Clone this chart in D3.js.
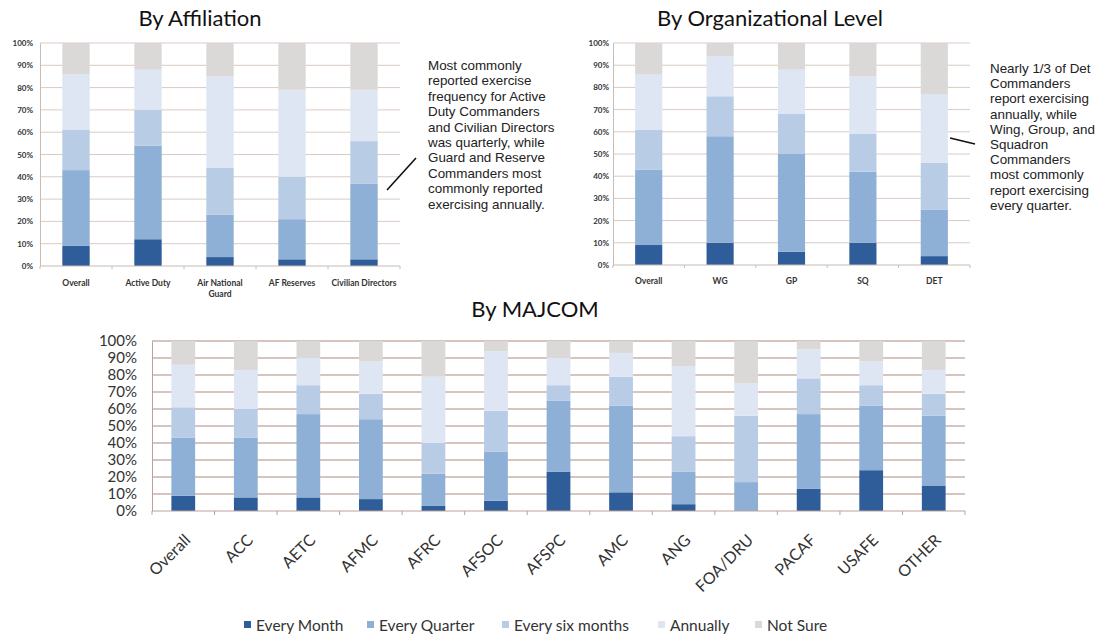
<!DOCTYPE html>
<html>
<head>
<meta charset="utf-8">
<script src="https://cdn.jsdelivr.net/npm/d3@7"></script>
<style>
  html, body { margin: 0; padding: 0; background: #ffffff; }
  svg { display: block; }
</style>
</head>
<body>
<svg id="chart" width="1107" height="637"></svg>
<script>
// ---------------- DATA ----------------
const seriesNames = ["Every Month", "Every Quarter", "Every six months", "Annually", "Not Sure"];
const yTickValues = [0, 10, 20, 30, 40, 50, 60, 70, 80, 90, 100];
const yTickLabels = ["0%", "10%", "20%", "30%", "40%", "50%", "60%", "70%", "80%", "90%", "100%"];

// By Affiliation
const affiliationCategories = ["Overall", "Active Duty", "Air National\nGuard", "AF Reserves", "Civilian Directors"];
const affiliationMonth     = [9, 12, 4, 3, 3];
const affiliationQuarter   = [34, 42, 19, 18, 34];
const affiliationSix       = [18, 16, 21, 19, 19];
const affiliationAnnually  = [25, 18, 41, 39, 23];
const affiliationNotSure   = [14, 12, 15, 21, 21];

// By Organizational Level
const orgCategories = ["Overall", "WG", "GP", "SQ", "DET"];
const orgMonth     = [9, 10, 6, 10, 4];
const orgQuarter   = [34, 48, 44, 32, 21];
const orgSix       = [18, 18, 18, 17, 21];
const orgAnnually  = [25, 18, 20, 26, 31];
const orgNotSure   = [14, 6, 12, 15, 23];

// By MAJCOM
const majcomCategories = ["Overall", "ACC", "AETC", "AFMC", "AFRC", "AFSOC", "AFSPC", "AMC", "ANG", "FOA/DRU", "PACAF", "USAFE", "OTHER"];
const majcomMonth     = [9, 8, 8, 7, 3, 6, 23, 11, 4, 0, 13, 24, 15];
const majcomQuarter   = [34, 35, 49, 47, 19, 29, 42, 51, 19, 17, 44, 38, 41];
const majcomSix       = [18, 17, 17, 15, 18, 24, 9, 17, 21, 39, 21, 12, 13];
const majcomAnnually  = [25, 23, 16, 19, 39, 35, 16, 14, 41, 19, 17, 14, 14];
const majcomNotSure   = [14, 17, 10, 12, 21, 6, 10, 7, 15, 25, 5, 12, 17];

const annotationAffiliation = ["Most commonly", "reported exercise", "frequency for Active", "Duty Commanders",
  "and Civilian Directors", "was quarterly, while", "Guard and Reserve", "Commanders most",
  "commonly reported", "exercising annually."];
const annotationOrg = ["Nearly 1/3 of Det", "Commanders", "report exercising", "annually, while",
  "Wing, Group, and", "Squadron", "Commanders", "most  commonly", "report exercising", "every quarter."];

// ---------------- STYLE ----------------
const colors = ["#2e5d99", "#8eafd6", "#b8cce5", "#dde6f2", "#dbd9d8"];
const uiFont = "Lato, 'Open Sans', sans-serif";
const noteFont = "'Liberation Sans', Arial, sans-serif";

const svg = d3.select("#chart");

function buildRows(cats, arrays) {
  return cats.map((c, i) => {
    const row = { cat: c };
    seriesNames.forEach((s, j) => row[s] = arrays[j][i]);
    return row;
  });
}

function drawPanel(opt) {
  const rows = buildRows(opt.categories, opt.series);
  const stack = d3.stack().keys(seriesNames)(rows);
  const x = d3.scaleBand().domain(opt.categories).range([opt.left, opt.right]).paddingInner(opt.pad).paddingOuter(opt.pad / 2);
  const y = d3.scaleLinear().domain([0, 100]).range([opt.bottom, opt.top]);
  const g = svg.append("g");

  // gridlines
  g.append("g").selectAll("line").data(yTickValues.filter(v => v > 0)).join("line")
    .attr("x1", opt.left).attr("x2", opt.right)
    .attr("y1", d => y(d)).attr("y2", d => y(d))
    .attr("stroke", opt.gridColor).attr("stroke-width", opt.gridWidth);

  // y axis
  const yAxis = d3.axisLeft(y).tickValues(yTickValues)
    .tickFormat((d, i) => yTickLabels[i]).tickSize(0).tickPadding(opt.yPad);
  const ya = g.append("g").attr("transform", `translate(${opt.left},0)`).call(yAxis);
  ya.select(".domain").attr("stroke", opt.axisColor).attr("stroke-width", 1);
  ya.selectAll("text").attr("font-family", uiFont).attr("font-size", opt.yFont)
    .attr("font-weight", opt.yWeight).attr("fill", "#333");

  // bars
  g.append("g").selectAll("g").data(stack).join("g")
    .attr("fill", (d, i) => colors[i])
    .selectAll("rect").data(d => d).join("rect")
    .attr("x", d => x(d.data.cat))
    .attr("width", x.bandwidth())
    .attr("y", d => y(d[1]))
    .attr("height", d => y(d[0]) - y(d[1]));

  // x axis baseline & ticks at band boundaries
  g.append("line").attr("x1", opt.left).attr("x2", opt.right)
    .attr("y1", opt.bottom).attr("y2", opt.bottom)
    .attr("stroke", opt.axisColor).attr("stroke-width", 1);
  const bounds = d3.range(opt.categories.length + 1).map(i => opt.left + i * (opt.right - opt.left) / opt.categories.length);
  g.append("g").selectAll("line").data(bounds).join("line")
    .attr("x1", d => d).attr("x2", d => d)
    .attr("y1", opt.bottom).attr("y2", opt.bottom + opt.tickLen)
    .attr("stroke", opt.axisColor).attr("stroke-width", 1);

  // x labels
  const lbl = g.append("g");
  if (opt.rotate) {
    lbl.selectAll("text").data(opt.categories).join("text")
      .attr("transform", d => `translate(${x(d) + x.bandwidth() / 2},${opt.labelY}) rotate(-45)`)
      .attr("text-anchor", "end").attr("dy", "0.72em")
      .attr("font-family", uiFont).attr("font-size", opt.xFont).attr("fill", "#333")
      .text(d => d);
  } else {
    lbl.selectAll("text").data(opt.categories).join("text")
      .attr("x", d => x(d) + x.bandwidth() / 2).attr("y", opt.labelY)
      .attr("text-anchor", "middle")
      .attr("font-family", uiFont).attr("font-size", opt.xFont).attr("font-weight", "bold").attr("fill", "#333")
      .each(function(d) {
        const parts = d.split("\n");
        d3.select(this).selectAll("tspan").data(parts).join("tspan")
          .attr("x", x(d) + x.bandwidth() / 2)
          .attr("dy", (p, i) => i === 0 ? 0 : "1.3em")
          .text(p => p);
      });
  }

  // title
  svg.append("text").attr("x", opt.titleX).attr("y", opt.titleY)
    .attr("text-anchor", "middle").attr("font-family", uiFont).attr("font-size", opt.titleSize)
    .attr("fill", "#111").text(opt.title);
}

drawPanel({
  title: "By Affiliation", titleX: 200, titleY: 26, titleSize: 22,
  categories: affiliationCategories,
  series: [affiliationMonth, affiliationQuarter, affiliationSix, affiliationAnnually, affiliationNotSure],
  left: 40, right: 400, top: 43, bottom: 266, pad: 0.62,
  gridColor: "#d9cbc3", gridWidth: 1, axisColor: "#c8bcb6", tickLen: 3,
  yFont: 8, yWeight: "bold", yPad: 7, xFont: 8.5, labelY: 286, rotate: false
});

drawPanel({
  title: "By Organizational Level", titleX: 770, titleY: 26, titleSize: 22,
  categories: orgCategories,
  series: [orgMonth, orgQuarter, orgSix, orgAnnually, orgNotSure],
  left: 613, right: 970, top: 43, bottom: 265, pad: 0.62,
  gridColor: "#d9cbc3", gridWidth: 1, axisColor: "#c8bcb6", tickLen: 3,
  yFont: 8, yWeight: "bold", yPad: 4, xFont: 8.5, labelY: 284, rotate: false
});

drawPanel({
  title: "By MAJCOM", titleX: 535, titleY: 317, titleSize: 22,
  categories: majcomCategories,
  series: [majcomMonth, majcomQuarter, majcomSix, majcomAnnually, majcomNotSure],
  left: 152, right: 965, top: 341, bottom: 511, pad: 0.62,
  gridColor: "#c9b2aa", gridWidth: 1.5, axisColor: "#b9a39c", tickLen: 4,
  yFont: 15, yWeight: "normal", yPad: 15, xFont: 16, labelY: 533, rotate: true
});

// annotations
function drawNote(lines, x0, y0, lh) {
  svg.append("text").attr("font-family", noteFont).attr("font-size", 13.4).attr("fill", "#222")
    .selectAll("tspan").data(lines).join("tspan")
    .attr("x", x0).attr("y", (d, i) => y0 + i * lh).text(d => d);
}
drawNote(annotationAffiliation, 428, 70, 15.4);
drawNote(annotationOrg, 990, 73, 15.2);
svg.append("line").attr("x1", 387).attr("y1", 190).attr("x2", 416).attr("y2", 158)
  .attr("stroke", "#111").attr("stroke-width", 1.6);
svg.append("line").attr("x1", 950).attr("y1", 138).attr("x2", 975).attr("y2", 144)
  .attr("stroke", "#111").attr("stroke-width", 1.6);

// legend
const legendX = [244, 367, 502, 658, 755];
const lg = svg.append("g");
seriesNames.forEach((s, i) => {
  lg.append("rect").attr("x", legendX[i]).attr("y", 621).attr("width", 7).attr("height", 7).attr("fill", colors[i]);
  lg.append("text").attr("x", legendX[i] + 12).attr("y", 631)
    .attr("font-family", uiFont).attr("font-size", 15.5).attr("fill", "#333").text(s);
});
</script>
</body>
</html>
